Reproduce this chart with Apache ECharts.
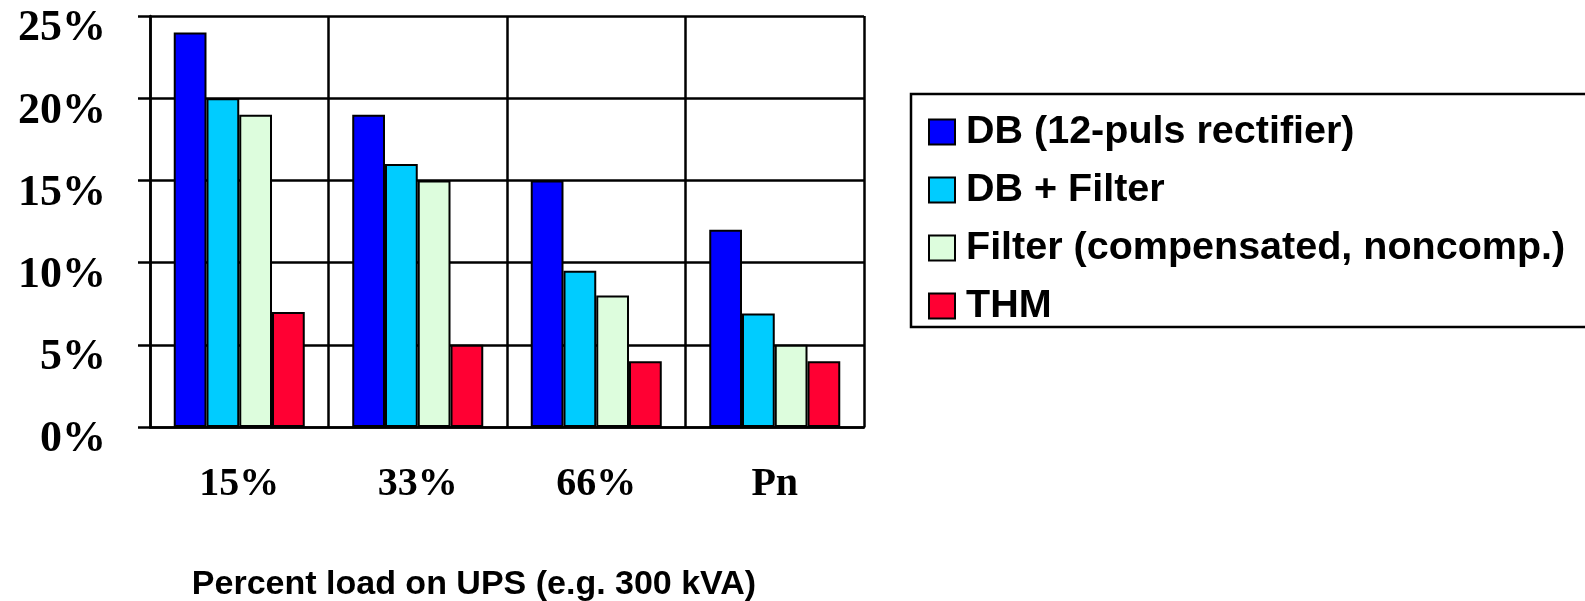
<!DOCTYPE html>
<html>
<head>
<meta charset="UTF-8">
<title>Harmonics vs UPS load</title>
<script src="https://cdn.jsdelivr.net/npm/echarts@6/dist/echarts.min.js"></script>
<style>
  html, body { margin: 0; padding: 0; background: #fff; }
  #main { width: 1585px; height: 601px; }
</style>
</head>
<body>
<div id="main"></div>
<script type="text/javascript">
// categories (load on the UPS)
var categories = ['15%', '33%', '66%', 'Pn'];

// series values, in percent
var seriesNames = ['DB (12-puls rectifier)', 'DB + Filter', 'Filter (compensated, noncomp.)', 'THM'];
var dbRectifier = [24, 19, 15, 12];
var dbFilter = [20, 16, 9.5, 6.9];
var filterComp = [19, 15, 8, 5];
var thm = [7, 5, 4, 4];

var colors = ['#0000FF', '#00CCFF', '#DDFDDD', '#FF0033'];
var values = [dbRectifier, dbFilter, filterComp, thm];

var myChart = echarts.init(document.getElementById('main'));

var series = [];
for (var i = 0; i < seriesNames.length; i++) {
    series.push({
        name: seriesNames[i],
        type: 'bar',
        data: values[i],
        barGap: '0%',
        barCategoryGap: '26.6%',
        itemStyle: { color: colors[i], borderColor: '#000', borderWidth: 2 }
    });
}

myChart.setOption({
    animation: false,
    backgroundColor: '#fff',
    title: {
        text: 'Percent load on UPS (e.g. 300 kVA)',
        left: 474,
        top: 568,
        textAlign: 'center',
        padding: 0,
        textStyle: {
            fontFamily: 'Liberation Sans',
            fontWeight: 'bold',
            fontSize: 34,
            color: '#000'
        }
    },
    legend: {
        orient: 'vertical',
        left: 911,
        top: 94,
        padding: [18, 40, 1, 17],
        itemGap: 18,
        itemWidth: 26,
        itemHeight: 25,
        borderColor: '#000',
        borderWidth: 2.5,
        icon: 'rect',
        itemStyle: { borderColor: '#000', borderWidth: 2 },
        textStyle: {
            fontFamily: 'Liberation Sans',
            fontWeight: 'bold',
            fontSize: 39.5,
            lineHeight: 40,
            color: '#000',
            padding: [0, 0, 0, 6]
        },
        data: seriesNames
    },
    grid: { left: 150, right: 721, top: 16, bottom: 174, outerBoundsMode: 'none' },
    xAxis: {
        type: 'category',
        data: categories,
        axisLine: { lineStyle: { color: '#000', width: 2.5 } },
        axisTick: { length: 11, lineStyle: { color: '#000', width: 2.5 } },
        splitLine: { show: true, lineStyle: { color: '#000', width: 2.5 } },
        axisLabel: {
            margin: 38,
            fontFamily: 'Liberation Serif',
            fontWeight: 'bold',
            fontSize: 40,
            color: '#000'
        }
    },
    yAxis: {
        type: 'value',
        min: 0,
        max: 25,
        interval: 5,
        axisLine: { show: true, lineStyle: { color: '#000', width: 2.5 } },
        axisTick: { show: true, length: 12, lineStyle: { color: '#000', width: 2.5 } },
        splitLine: { show: true, lineStyle: { color: '#000', width: 2.5 } },
        axisLabel: {
            formatter: '{v|{value}%}',
            margin: 44,
            rich: {
                v: {
                    fontFamily: 'Liberation Serif',
                    fontWeight: 'bold',
                    fontSize: 44,
                    color: '#000',
                    lineHeight: 70,
                    verticalAlign: 'bottom'
                }
            }
        }
    },
    series: series
});
</script>
</body>
</html>
